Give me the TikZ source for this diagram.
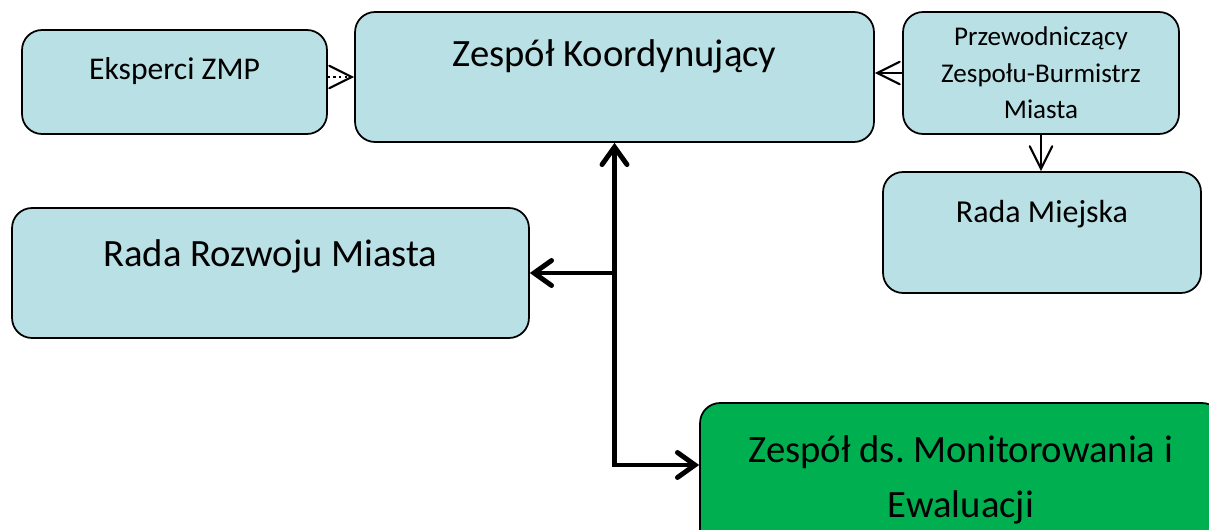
\documentclass[tikz,border=0pt]{standalone}
\usepackage{fontspec}
\setmainfont{Carlito}
\usetikzlibrary{arrows.meta, positioning}

\definecolor{boxblue}{RGB}{185,224,228}
\definecolor{boxgreen}{RGB}{0,176,80}

\begin{document}
\frenchspacing
\begin{tikzpicture}[x=0.02cm, y=-0.02cm,
  box/.style={draw, line width=1pt, rounded corners=0.4cm, fill=boxblue, inner xsep=0pt, inner ysep=0pt},
  thinarrow/.style={line width=1.2pt, -{Straight Barb[length=4.5mm, width=4.5mm, line cap=round]}},
  bigarrow/.style={line width=2.8pt, line join=miter, {Straight Barb[length=3.5mm, width=5mm, line cap=round]}-{Straight Barb[length=3.5mm, width=5mm, line cap=round]}}]

\useasboundingbox (0,0) rectangle (1209,530);
\clip (0,0) rectangle (1209,530);

\node[box, minimum width=6.1cm, text height=1cm, text depth=1.08cm, font=\fontsize{18}{21}\selectfont] (eksperci) at (174.5,82) {Eksperci ZMP};
\node[box, minimum width=10.38cm, text height=1.1cm, text depth=1.5cm, font=\fontsize{22}{26}\selectfont] (zk) at (614.5,77) {Zespół Koordynujący};
\node[box, minimum width=5.52cm, minimum height=2.44cm, align=center, font=\fontsize{15.4}{20.7}\selectfont] (przew) at (1041,73) {Przewodniczący\\Zespołu-Burmistrz\\Miasta};
\node[box, minimum width=6.36cm, text height=1cm, text depth=1.42cm, font=\fontsize{18.2}{21}\selectfont] (rm) at (1042,232.5) {Rada Miejska};
\node[box, minimum width=10.34cm, text height=1.16cm, text depth=1.44cm, font=\fontsize{22}{26}\selectfont] (rrm) at (270.5,273) {Rada Rozwoju Miasta};
\node[box, fill=boxgreen, minimum width=10.44cm, minimum height=3.08cm, align=center, font=\fontsize{22}{31.2}\selectfont] (zme) at (961,480) {Zespół ds. Monitorowania i\\Ewaluacji};

\draw[thinarrow, dotted] (eksperci.east |- zk.west) -- (zk.west);
\draw[thinarrow] (przew.west) -- (przew.west -| zk.east);
\draw[thinarrow] (przew.south) -- (przew.south |- rm.north);

\coordinate (zmein) at ([yshift=0.3cm]zme.west);
\coordinate (low) at (zk.south |- zmein);
\coordinate (mid) at (zk.south |- rrm.east);
\draw[bigarrow] (zk.south) -- (low) -- (zmein);
\draw[bigarrow, {Straight Barb[length=3.5mm, width=5mm, line cap=round]}-] (rrm.east) -- (mid);
\end{tikzpicture}
\end{document}
